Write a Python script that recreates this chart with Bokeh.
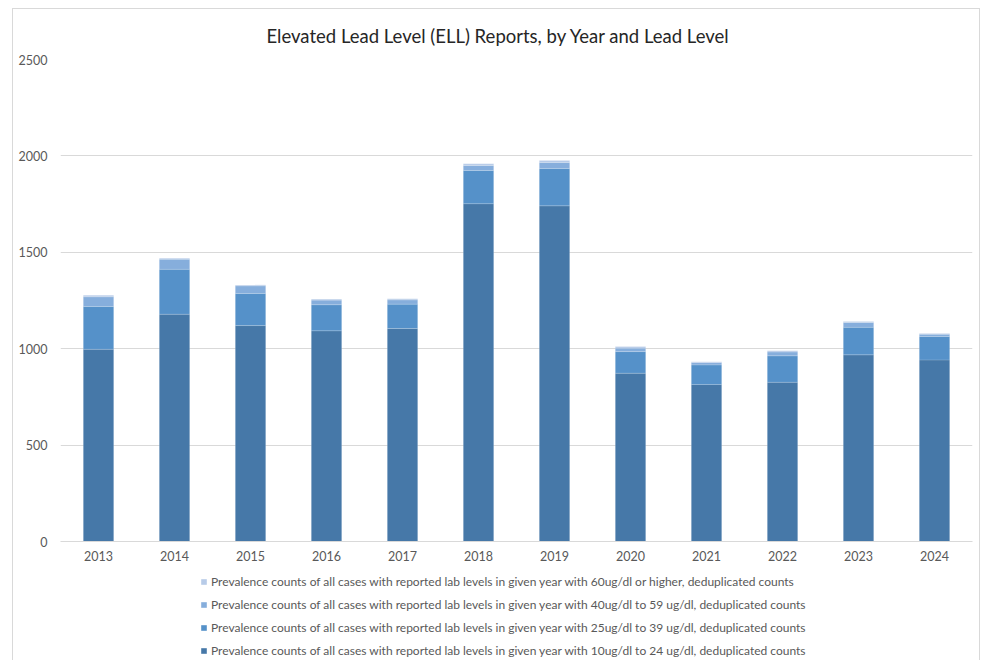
from bokeh.plotting import figure
from bokeh.layouts import column
from bokeh.models import ColumnDataSource, Legend, LegendItem, FactorRange, SingleIntervalTicker
from bokeh.embed import file_html
from bokeh.resources import INLINE

# Reported elevated lead level cases per year, split by lab level band
years = ["2013", "2014", "2015", "2016", "2017", "2018",
         "2019", "2020", "2021", "2022", "2023", "2024"]
lvl_10_24 = [997, 1179, 1120, 1093, 1105, 1752, 1741, 873, 814, 826, 968, 942]
lvl_25_39 = [222, 233, 166, 135, 126, 172, 194, 112, 102, 137, 143, 121]
lvl_40_59 = [50, 52, 40, 24, 22, 26, 31, 18, 12, 20, 25, 12]
lvl_60_up = [8, 5, 5, 5, 6, 9, 10, 8, 4, 6, 5, 4]

series_keys = ["l10", "l25", "l40", "l60"]
series_labels = [
    "Prevalence counts of all cases with reported lab levels in given year with 10ug/dl to 24 ug/dl, deduplicated counts",
    "Prevalence counts of all cases with reported lab levels in given year with 25ug/dl to 39 ug/dl, deduplicated counts",
    "Prevalence counts of all cases with reported lab levels in given year with 40ug/dl to 59 ug/dl, deduplicated counts",
    "Prevalence counts of all cases with reported lab levels in given year with 60ug/dl or higher, deduplicated counts",
]
colors = ["#4678a8", "#5591c9", "#86aedc", "#b7cbe8"]

source = ColumnDataSource(dict(year=years, l10=lvl_10_24, l25=lvl_25_39,
                               l40=lvl_40_59, l60=lvl_60_up))

FONT = "Lato"
TEXT = "#595959"

# Main stacked bar chart
p = figure(
    x_range=FactorRange(*years, range_padding=0),
    y_range=(0, 2500),
    width=966, height=558,
    output_backend="svg", toolbar_location=None,
    min_border_left=47, min_border_right=7,
    min_border_top=50, min_border_bottom=26,
)

p.vbar_stack(series_keys, x="year", width=0.4, source=source,
             color=colors, line_color="white", line_alpha=0.15, line_width=1)

p.title.text = "Elevated Lead Level (ELL) Reports, by Year and Lead Level"
p.title.align = "left"
p.title.offset = 206
p.title.vertical_align = "middle"
p.title.text_font = FONT
p.title.text_font_size = "18.5px"
p.title.text_font_style = "normal"
p.title.text_color = "#262626"
p.title.standoff = 24

p.outline_line_color = None
p.background_fill_color = "white"
p.border_fill_color = "white"

p.xgrid.grid_line_color = None
p.ygrid.grid_line_color = "#d9d9d9"
p.ygrid.grid_line_width = 1

p.yaxis.ticker = SingleIntervalTicker(interval=500)
p.yaxis.axis_line_color = None
p.yaxis.major_tick_line_color = None
p.yaxis.minor_tick_line_color = None
p.yaxis.major_label_standoff = 7
p.yaxis.major_label_text_font = FONT
p.yaxis.major_label_text_font_size = "12.5px"
p.yaxis.major_label_text_color = TEXT

p.xaxis.axis_line_color = "#d9d9d9"
p.xaxis.major_tick_line_color = None
p.xaxis.minor_tick_line_color = None
p.xaxis.major_label_standoff = 3
p.xaxis.major_label_text_font = FONT
p.xaxis.major_label_text_font_size = "12.5px"
p.xaxis.major_label_text_color = TEXT

# Legend strip below the chart; swatch glyphs sit outside the visible range
leg = figure(
    width=966, height=94, x_range=(0, 1), y_range=(0, 1),
    x_axis_type=None, y_axis_type=None,
    output_backend="svg", toolbar_location=None,
    min_border=0,
)
leg.outline_line_color = None
leg.grid.grid_line_color = None
leg.border_fill_color = "white"

swatches = [leg.rect(x=[-10], y=[-10], width=1, height=1, fill_color=c, line_color=None)
            for c in colors]
items = [LegendItem(label=series_labels[i], renderers=[swatches[i]])
         for i in reversed(range(4))]
legend = Legend(
    items=items, location=(140, 3), orientation="vertical",
    label_text_font=FONT, label_text_font_size="12px", label_text_color=TEXT,
    label_height=16, label_standoff=4, glyph_width=7, glyph_height=7,
    spacing=7, padding=0, margin=0, border_line_color=None,
    background_fill_alpha=0,
)
leg.add_layout(legend, "center")

layout = column(p, leg, spacing=0)
layout.margin = (8, 0, 0, 12)
layout.styles = {"border-left": "1px solid #d9d9d9", "border-top": "1px solid #d9d9d9",
                 "border-right": "1px solid #d9d9d9"}

open("out.html", "w").write(file_html(layout, INLINE))
